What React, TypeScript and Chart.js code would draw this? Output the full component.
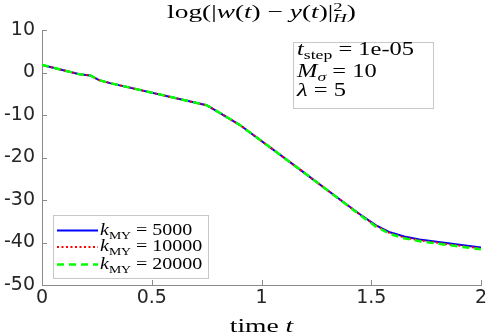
import React, { useEffect, useRef } from "react";
import { Chart, registerables } from "chart.js";

Chart.register(...registerables);

const timeT = [0, 0.17, 0.22, 0.26, 0.31, 0.75, 0.8, 0.9, 1.13, 1.36, 1.45, 1.52, 1.585, 1.65, 1.72, 1.85, 2];
const err5000 = [1.8, -0.4, -0.7, -1.8, -2.5, -7.7, -9.2, -12.3, -21.1, -30.0, -33.4, -35.9, -37.6, -38.6, -39.3, -40.2, -41.2];
const err10000 = [1.8, -0.4, -0.7, -1.8, -2.5, -7.7, -9.2, -12.3, -21.1, -30.0, -33.5, -36.0, -37.8, -38.8, -39.5, -40.4, -41.4];
const err20000 = [1.8, -0.4, -0.7, -1.8, -2.5, -7.7, -9.2, -12.3, -21.1, -30.0, -33.6, -36.2, -38.0, -39.0, -39.7, -40.6, -41.6];
const legendLabels = ["5000", "10000", "20000"];
const yTicks = { min: -50, max: 10, step: 10 };
const xTicks = { min: 0, max: 2, step: 0.5 };

type Seg = { t: string; it?: boolean; small?: boolean; dy?: number; keep?: boolean };

function drawRich(ctx: CanvasRenderingContext2D, segs: Seg[], x: number, y: number, size: number, align: "left" | "center", sx: number) {
  const fam = "'Liberation Serif', 'DejaVu Serif', serif";
  const fontFor = (s: Seg) => `${s.it ? "italic " : ""}${s.small ? Math.round(size * 0.7) : size}px ${fam}`;
  let total = 0;
  for (const s of segs) {
    ctx.font = fontFor(s);
    const w = ctx.measureText(s.t).width;
    if (!s.keep) total += w;
  }
  ctx.save();
  ctx.translate(x, y);
  ctx.scale(sx, 1);
  let cx = align === "center" ? -total / 2 : 0;
  ctx.textBaseline = "alphabetic";
  ctx.textAlign = "left";
  ctx.fillStyle = "#000";
  for (const s of segs) {
    ctx.font = fontFor(s);
    const w = ctx.measureText(s.t).width;
    ctx.fillText(s.t, cx, s.dy || 0);
    if (!s.keep) cx += w;
  }
  ctx.restore();
}

const overlay = {
  id: "overlay",
  afterDraw(chart: any) {
    const ctx: CanvasRenderingContext2D = chart.ctx;
    const xs = chart.scales.x;
    const ys = chart.scales.y;
    const area = chart.chartArea;
    ctx.save();
    ctx.strokeStyle = "#8a8a8a";
    ctx.lineWidth = 1;
    for (let v = yTicks.min; v <= yTicks.max; v += yTicks.step) {
      const py = Math.round(ys.getPixelForValue(v)) + 0.5;
      ctx.beginPath();
      ctx.moveTo(area.left, py);
      ctx.lineTo(area.left + 5, py);
      ctx.stroke();
    }
    for (let v = xTicks.min; v <= xTicks.max + 1e-9; v += xTicks.step) {
      const px = Math.round(xs.getPixelForValue(v)) + 0.5;
      ctx.beginPath();
      ctx.moveTo(px, area.bottom);
      ctx.lineTo(px, area.bottom - 5);
      ctx.stroke();
    }
    const midX = (area.left + area.right) / 2;
    drawRich(ctx, [
      { t: "log(|" }, { t: "w", it: true }, { t: "(" }, { t: "t", it: true }, { t: ") \u2212 " },
      { t: "y", it: true }, { t: "(" }, { t: "t", it: true }, { t: ")|" },
      { t: "2", small: true, dy: -7, keep: true }, { t: "H", small: true, it: true, dy: 4 }, { t: ")" },
    ], midX, 18, 19, "center", 1.44);
    drawRich(ctx, [{ t: "time " }, { t: "t", it: true }], midX, 332, 19, "center", 1.45);

    // annotation box
    ctx.fillStyle = "#fff";
    ctx.fillRect(293, 42, 140, 66);
    ctx.strokeStyle = "#c8c8c8";
    ctx.strokeRect(293.5, 42.5, 140, 66);
    drawRich(ctx, [{ t: "t", it: true }, { t: "step", small: true, dy: 4 }, { t: " = 1e-05" }], 297, 55, 18, "left", 1.36);
    drawRich(ctx, [{ t: "M", it: true }, { t: "\u03c3", small: true, it: true, dy: 4 }, { t: " = 10" }], 297, 76.5, 18, "left", 1.36);
    drawRich(ctx, [{ t: "\u03bb", it: true }, { t: " = 5" }], 297, 96, 18, "left", 1.36);

    // legend
    ctx.fillStyle = "#fff";
    ctx.fillRect(53, 215, 155, 64);
    ctx.strokeStyle = "#c8c8c8";
    ctx.lineWidth = 1;
    ctx.strokeRect(53.5, 215.5, 155, 63);
    const ds = chart.data.datasets;
    const rows = [230.5, 247, 264.5];
    [0, 1, 2].forEach((di, i) => {
      const d = ds[di];
      ctx.save();
      ctx.strokeStyle = d.borderColor;
      ctx.lineWidth = d.borderWidth;
      ctx.setLineDash(d.borderDash || []);
      ctx.beginPath();
      ctx.moveTo(57, rows[i]);
      ctx.lineTo(98, rows[i]);
      ctx.stroke();
      ctx.restore();
      drawRich(ctx, [{ t: "k", it: true }, { t: "MY", small: true, dy: 4 }, { t: " = " + legendLabels[i] }], 100, rows[i] + 4, 16, "left", 1.25);
    });
    ctx.restore();
  },
};

export default function App() {
  const ref = useRef<HTMLCanvasElement | null>(null);
  useEffect(() => {
    if (!ref.current) return;
    const mk = (arr: number[]) => timeT.map((t, i) => ({ x: t, y: arr[i] }));
    const tickFont = { family: "'DejaVu Sans', sans-serif", size: 19 };
    const chart = new Chart(ref.current, {
      type: "line",
      data: {
        datasets: [
          { label: "k_MY = 5000", data: mk(err5000), borderColor: "#0000ff", borderWidth: 2, pointRadius: 0, order: 2, borderDash: [] },
          { label: "k_MY = 10000", data: mk(err10000), borderColor: "#ff0000", borderWidth: 2, pointRadius: 0, order: 1, borderDash: [2, 2.5] },
          { label: "k_MY = 20000", data: mk(err20000), borderColor: "#00ff00", borderWidth: 2.5, pointRadius: 0, order: 0, borderDash: [7, 5] },
        ] as any,
      },
      options: {
        responsive: false,
        animation: false,
        layout: { padding: { top: 30, right: 5, left: 0, bottom: 0 } },
        plugins: { legend: { display: false }, tooltip: { enabled: false }, title: { display: false } },
        scales: {
          x: {
            type: "linear",
            min: xTicks.min,
            max: xTicks.max,
            ticks: { stepSize: xTicks.step, color: "#262626", font: tickFont, padding: 2, maxRotation: 0, callback: (v: any) => String(Number(v)) },
            grid: { display: false, drawTicks: false },
            border: { display: true, color: "#8a8a8a", width: 1 },
            afterFit: (s: any) => { s.height = 50; s.paddingLeft = 0; s.paddingRight = 0; },
          },
          y: {
            type: "linear",
            min: yTicks.min,
            max: yTicks.max,
            ticks: { stepSize: yTicks.step, color: "#262626", font: tickFont, padding: 7, callback: (v: any) => String(Number(v)) },
            grid: { display: false, drawTicks: false },
            border: { display: true, color: "#8a8a8a", width: 1 },
            afterFit: (s: any) => { s.width = 42; s.paddingTop = 0; s.paddingBottom = 0; },
          },
        },
      },
      plugins: [overlay],
    });
    return () => chart.destroy();
  }, []);
  return (
    <div style={{ position: "absolute", left: 0, top: 0, width: 486, height: 335, background: "#fff" }}>
      <canvas ref={ref} width={486} height={335} style={{ display: "block" }} />
    </div>
  );
}
